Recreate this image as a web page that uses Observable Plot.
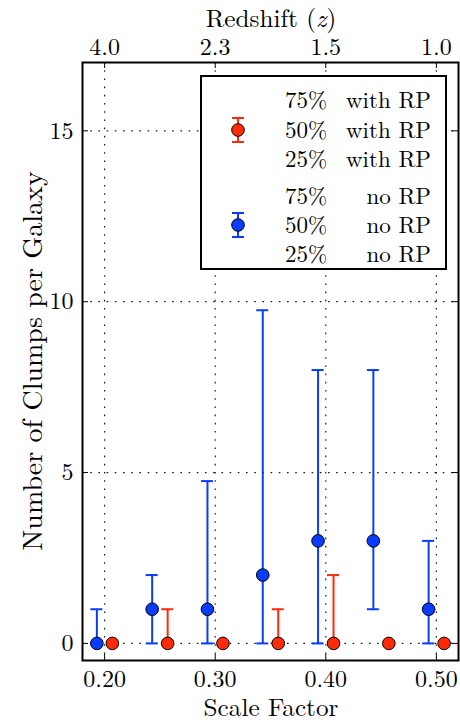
<!DOCTYPE html>
<html><head><meta charset="utf-8">
<script src="https://cdn.jsdelivr.net/npm/d3@7"></script>
<script src="https://cdn.jsdelivr.net/npm/@observablehq/plot@0.6"></script>
<style>body{margin:0;background:#fff} #chart{width:460px;height:722px}</style>
</head><body><div id="chart"></div>
<script>
// ---- data ----
const xNoRP    = [0.193, 0.243, 0.293, 0.343, 0.393, 0.443, 0.493];
const xWithRP  = [0.207, 0.257, 0.307, 0.357, 0.407, 0.457, 0.507];
const medNoRP  = [0, 1, 1, 2, 3, 3, 1];
const q25NoRP  = [0, 0, 0, 0, 0, 1, 0];
const q75NoRP  = [1, 2, 4.75, 9.75, 8, 8, 3];
const medWithRP = [0, 0, 0, 0, 0, 0, 0];
const q25WithRP = [0, 0, 0, 0, 0, 0, 0];
const q75WithRP = [0, 1, 0, 1, 2, 0, 0];
const xTicks = [0.2, 0.3, 0.4, 0.5];
const xTickLabels = ["0.20", "0.30", "0.40", "0.50"];
const zTickLabels = ["4.0", "2.3", "1.5", "1.0"];
const yTicks = [0, 5, 10, 15];
const legendWithRP = ["with RP", "with RP", "with RP"];
const legendNoRP = ["no RP", "no RP", "no RP"];
const legendPct = ["75%", "50%", "25%"];

const BLUE = "#0a3cff", RED = "#ff2a08";

// pick an installed serif face
function hasFont(name) {
  const c = document.createElement("canvas").getContext("2d");
  const s = "mmmmmmmmmmlliWW0.20 Galaxy";
  return ["monospace", "sans-serif"].some(base => {
    c.font = `72px ${base}`; const w0 = c.measureText(s).width;
    c.font = `72px "${name}", ${base}`; const w1 = c.measureText(s).width;
    return Math.abs(w0 - w1) > 0.5;
  });
}
const candidates = ["Latin Modern Roman", "CMU Serif", "Liberation Serif", "Times New Roman", "Tinos", "DejaVu Serif", "Noto Serif", "FreeSerif", "Nimbus Roman", "Times"];
const found = candidates.find(hasFont);
const FONT = found ? `"${found}", serif` : "serif";
const FS = 24;      // tick labels
const FSG = 23;     // legend
const FSL = 25.2;   // axis titles
const FSY = 28;     // y-axis title

const noRP = xNoRP.map((x, i) => ({x, med: medNoRP[i], lo: q25NoRP[i], hi: q75NoRP[i]}));
const withRP = xWithRP.map((x, i) => ({x, med: medWithRP[i], lo: q25WithRP[i], hi: q75WithRP[i]}));

const W = 460, H = 722, mT = 62, mB = 62, mL = 82, mR = 2;
const innerH = H - mT - mB, innerW = W - mL - mR;

function errorMarks(data, color) {
  const bars = data.filter(d => d.hi > d.lo);
  return [
    Plot.ruleX(bars, {x: "x", y1: "lo", y2: "hi", stroke: color, strokeWidth: 2}),
    Plot.ruleY(bars, {y: "lo", x1: "x", x2: "x", insetLeft: -6, insetRight: -6, stroke: color, strokeWidth: 2}),
    Plot.ruleY(bars, {y: "hi", x1: "x", x2: "x", insetLeft: -6, insetRight: -6, stroke: color, strokeWidth: 2})
  ];
}

const chart = Plot.plot({
  width: W, height: H,
  marginTop: mT, marginBottom: mB, marginLeft: mL, marginRight: mR,
  style: {fontFamily: FONT, fontSize: FS + "px", color: "black", background: "white"},
  x: {domain: [0.18, 0.52]},
  y: {domain: [-0.5, 17]},
  marks: [
    Plot.gridX(xTicks, {stroke: "black", strokeOpacity: 0.9, strokeWidth: 1.2, strokeDasharray: "1.6,6.6"}),
    Plot.gridY(yTicks, {stroke: "black", strokeOpacity: 0.9, strokeWidth: 1.2, strokeDasharray: "1.6,6.6"}),
    Plot.axisX(xTicks, {anchor: "bottom", tickSize: 0, tickPadding: 9, tickFormat: (d, i) => xTickLabels[i], label: null, fontSize: FS, fontFamily: FONT}),
    Plot.axisX(xTicks, {anchor: "top", tickSize: 0, tickPadding: 8, tickFormat: (d, i) => zTickLabels[i], label: null, fontSize: FS, fontFamily: FONT}),
    Plot.axisY(yTicks, {anchor: "left", tickSize: 0, tickPadding: 9, label: null, fontSize: FS, fontFamily: FONT}),
    Plot.tickX(xTicks, {x: d => d, insetTop: innerH - 6, stroke: "black", strokeWidth: 1}),
    Plot.tickX(xTicks, {x: d => d, insetBottom: innerH - 6, stroke: "black", strokeWidth: 1}),
    Plot.tickY(yTicks, {y: d => d, insetRight: innerW - 6, stroke: "black", strokeWidth: 1}),
    Plot.tickY(yTicks, {y: d => d, insetLeft: innerW - 6, stroke: "black", strokeWidth: 1}),
    ...errorMarks(noRP, BLUE),
    ...errorMarks(withRP, RED),
    Plot.dot(noRP, {x: "x", y: "med", r: 6.3, fill: BLUE, stroke: "black", strokeWidth: 1}),
    Plot.dot(withRP, {x: "x", y: "med", r: 6.3, fill: RED, stroke: "black", strokeWidth: 1}),
    Plot.frame({stroke: "black", strokeWidth: 2})
  ]
});
document.getElementById("chart").appendChild(chart);

// axis titles and legend
const svg = d3.select(chart);
const txt = (sel, fs = FS) => sel.attr("font-family", FONT).attr("font-size", fs)
  .style("font-family", FONT).style("font-size", fs + "px");
const t1 = svg.append("text").attr("x", 271).attr("y", 27).attr("text-anchor", "middle").call(txt, FSL);
const t1n = t1.node();
t1n.appendChild(document.createTextNode("Redshift ("));
t1.append("tspan").style("font-style", "italic").text("z");
t1n.appendChild(document.createTextNode(")"));
svg.append("text").attr("x", 271).attr("y", 716).attr("text-anchor", "middle").call(txt, FSL).text("Scale Factor");
svg.append("text").attr("transform", `translate(42,${mT + innerH / 2}) rotate(-90)`)
  .attr("text-anchor", "middle").call(txt, FSY).text("Number of Clumps per Galaxy");

const lg = svg.append("g");
lg.append("rect").attr("x", 201).attr("y", 76).attr("width", 245).attr("height", 193)
  .attr("fill", "white").attr("stroke", "black").attr("stroke-width", 2);
const rowsY = [[100, 130, 159], [196, 225, 254]];
const groups = [[legendWithRP, RED], [legendNoRP, BLUE]];
groups.forEach(([labels, color], g) => {
  labels.forEach((lab, i) => {
    const y = rowsY[g][i];
    lg.append("text").attr("x", 285).attr("y", y).attr("dy", "0.35em").attr("text-anchor", "start").call(txt, FSG).text(legendPct[i]);
    lg.append("text").attr("x", 431).attr("y", y).attr("dy", "0.35em").attr("text-anchor", "end").call(txt, FSG).text(lab);
  });
  const cy = rowsY[g][1], cx = 238;
  lg.append("line").attr("x1", cx).attr("x2", cx).attr("y1", cy - 12).attr("y2", cy + 12).attr("stroke", color).attr("stroke-width", 2);
  lg.append("line").attr("x1", cx - 6).attr("x2", cx + 6).attr("y1", cy - 12).attr("y2", cy - 12).attr("stroke", color).attr("stroke-width", 2);
  lg.append("line").attr("x1", cx - 6).attr("x2", cx + 6).attr("y1", cy + 12).attr("y2", cy + 12).attr("stroke", color).attr("stroke-width", 2);
  lg.append("circle").attr("cx", cx).attr("cy", cy).attr("r", 6.3).attr("fill", color).attr("stroke", "black");
});
</script></body></html>
